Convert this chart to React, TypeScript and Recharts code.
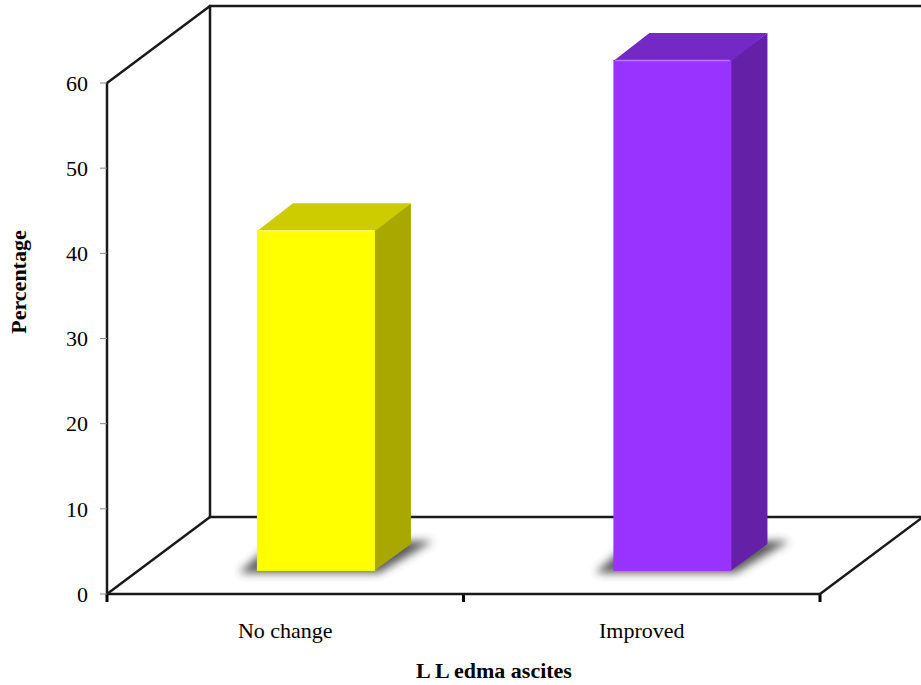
import React from "react";
import { BarChart, Bar, XAxis, YAxis, Customized } from "recharts";

const categories = ["No change", "Improved"];
const percentages = [40, 60];
const yTicks = [0, 10, 20, 30, 40, 50, 60];
const xTitle = "L L edma ascites";
const yTitle = "Percentage";

const data = categories.map((name, i) => ({ name, value: percentages[i] }));

// face colours per bar: front, top, side
const PALETTE = [
  { front: "#ffff00", top: "#cccc00", side: "#a8a800" },
  { front: "#9933ff", top: "#7428c6", side: "#6420a6" },
];

const W = 921;
const H = 685;
const MARGIN = { top: 83, right: 101, bottom: 31, left: 47 };
const Y_AXIS_W = 60;
const X_AXIS_H = 60;
const PLOT = {
  left: MARGIN.left + Y_AXIS_W,
  right: W - MARGIN.right,
  top: MARGIN.top,
  bottom: H - MARGIN.bottom - X_AXIS_H,
};
// floor depth of the box, and where the bars sit inside it
const DEPTH = { x: 103, y: -77 };
const BAR_POS = 0.3;
const BAR_DEPTH = 0.35;

const FONT = "'Liberation Serif', 'Times New Roman', serif";
const LINE = "#1a1a1a";

function Frame() {
  const { left, right, top, bottom } = PLOT;
  const bx = DEPTH.x;
  const by = DEPTH.y;
  const mid = (left + right) / 2;
  return (
    <g>
      <g stroke={LINE} strokeWidth={2.5} fill="none" strokeLinecap="round">
        {/* floor */}
        <line x1={left} y1={bottom} x2={left + bx} y2={bottom + by} />
        <line x1={left + bx} y1={bottom + by} x2={right + bx} y2={bottom + by} />
        <line x1={right} y1={bottom} x2={right + bx} y2={bottom + by} />
        {/* left side wall and back wall */}
        <line x1={left} y1={top} x2={left + bx} y2={top + by} />
        <line x1={left + bx} y1={top + by} x2={left + bx} y2={bottom + by} />
        <line x1={left + bx} y1={top + by} x2={right + bx} y2={top + by} />
      </g>
      {/* category boundary ticks */}
      {[left, mid, right].map((tx, i) => (
        <rect key={i} x={tx - 1.5} y={bottom} width={3} height={8} fill="#000" />
      ))}
      <text
        x={494}
        y={678}
        textAnchor="middle"
        fontFamily={FONT}
        fontSize={22}
        fontWeight="bold"
        fill="#000"
      >
        {xTitle}
      </text>
      <text
        x={26}
        y={282}
        transform="rotate(-90 26 282)"
        textAnchor="middle"
        fontFamily={FONT}
        fontSize={22}
        fontWeight="bold"
        fill="#000"
      >
        {yTitle}
      </text>
    </g>
  );
}

function Bar3D(props: any) {
  const { x, y, width, height, index } = props;
  const c = PALETTE[index % PALETTE.length];
  const fx = x + DEPTH.x * BAR_POS;
  const fy = y + DEPTH.y * BAR_POS;
  const fb = y + height + DEPTH.y * BAR_POS;
  const dx = DEPTH.x * BAR_DEPTH;
  const dy = DEPTH.y * BAR_DEPTH;
  const w = width;
  const shadow = [
    [fx - 18, fb + 2],
    [fx + w + 4, fb + 2],
    [fx + w + dx + 22, fb + dy - 3],
    [fx + dx - 18, fb + dy - 3],
  ]
    .map((p) => p.join(","))
    .join(" ");
  return (
    <g>
      <polygon points={shadow} fill="#333" opacity={0.8} filter="url(#barShadow)" />
      <polygon
        points={`${fx + w - 1},${fy} ${fx + w + dx},${fy + dy} ${fx + w + dx},${fb + dy} ${fx + w - 1},${fb}`}
        fill={c.side}
      />
      <polygon
        points={`${fx},${fy + 1} ${fx + dx},${fy + dy} ${fx + w + dx},${fy + dy} ${fx + w},${fy + 1}`}
        fill={c.top}
      />
      <rect x={fx} y={fy} width={w} height={fb - fy} fill={c.front} />
      <line
        x1={fx + 2}
        y1={fy + 0.5}
        x2={fx + w - 2}
        y2={fy + 0.5}
        stroke="#ffffff"
        strokeOpacity={0.35}
        strokeWidth={1.5}
      />
    </g>
  );
}

export default function App() {
  return (
    <div style={{ position: "absolute", left: 0, top: 0, width: W, height: H, background: "#fff" }}>
      <BarChart width={W} height={H} data={data} margin={MARGIN} barSize={118}>
        <defs>
          <filter id="barShadow" x="-30%" y="-100%" width="160%" height="300%">
            <feGaussianBlur stdDeviation={4} />
          </filter>
        </defs>
        <Customized component={Frame} />
        <XAxis
          dataKey="name"
          height={X_AXIS_H}
          axisLine={{ stroke: LINE, strokeWidth: 2.5 }}
          tickLine={false}
          tickSize={0}
          tickMargin={28}
          tick={{ fill: "#000", fontSize: 22, fontFamily: FONT }}
          interval={0}
        />
        <YAxis
          width={Y_AXIS_W}
          domain={[0, 60]}
          ticks={yTicks}
          interval={0}
          axisLine={{ stroke: LINE, strokeWidth: 2.5 }}
          tickLine={{ stroke: "#888", strokeWidth: 1 }}
          tickSize={7}
          tickMargin={12}
          tick={{ fill: "#000", fontSize: 22, fontFamily: FONT }}
        />
        <Bar dataKey="value" shape={Bar3D} isAnimationActive={false} />
      </BarChart>
    </div>
  );
}
